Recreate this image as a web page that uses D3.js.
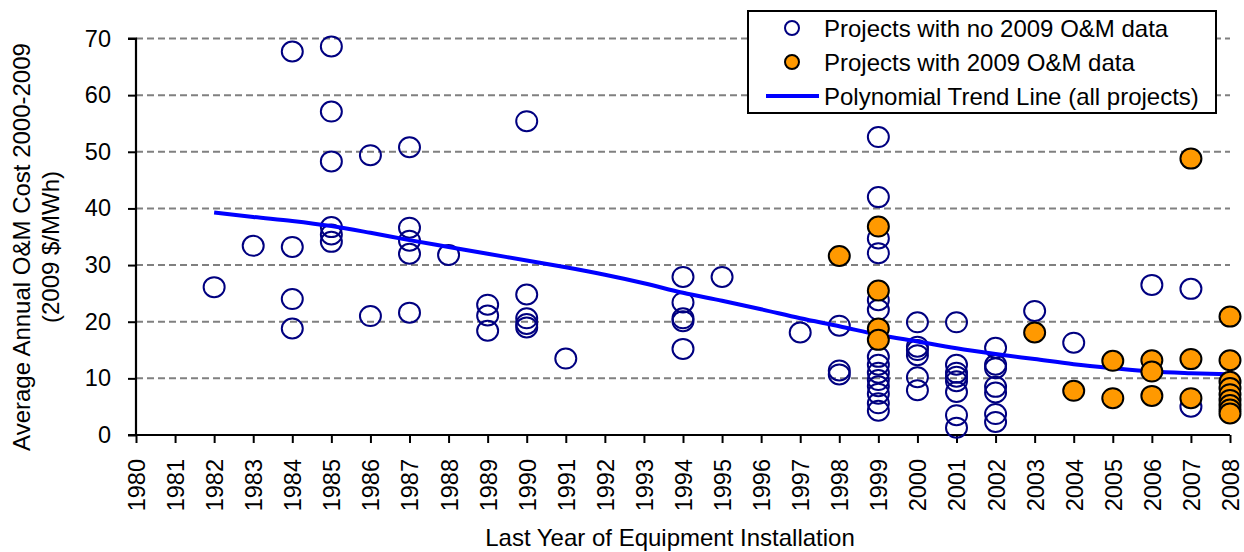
<!DOCTYPE html>
<html>
<head>
<meta charset="utf-8">
<script src="https://cdn.jsdelivr.net/npm/d3@7"></script>
<style>
  html, body { margin: 0; padding: 0; background: #fff; }
  svg { display: block; }
  text { font-family: "Liberation Sans", Arial, sans-serif; fill: #000; }
</style>
</head>
<body>
<svg id="chart" width="1244" height="552"></svg>
<script>
// Installation years shown on the category axis
const years = d3.range(1980, 2009);
const yTicks = [0, 10, 20, 30, 40, 50, 60, 70];

// Projects with no 2009 O&M data: [year, $/MWh]
const noDataPoints = [
  [1982, 26.1],
  [1983, 33.4],
  [1984, 67.7], [1984, 33.2], [1984, 24.0], [1984, 18.8],
  [1985, 68.6], [1985, 57.1], [1985, 48.3], [1985, 36.7], [1985, 35.4], [1985, 34.1],
  [1986, 49.4], [1986, 21.0],
  [1987, 50.8], [1987, 36.6], [1987, 34.3], [1987, 32.0], [1987, 21.6],
  [1988, 31.8],
  [1989, 23.0], [1989, 21.1], [1989, 18.4],
  [1990, 55.4], [1990, 24.8], [1990, 20.6], [1990, 19.6], [1990, 19.0],
  [1991, 13.5],
  [1994, 27.9], [1994, 23.4], [1994, 20.6], [1994, 20.1], [1994, 15.2],
  [1995, 27.9],
  [1997, 18.1],
  [1998, 19.3], [1998, 11.4], [1998, 10.7],
  [1999, 52.6], [1999, 42.0], [1999, 34.7], [1999, 32.1], [1999, 23.8], [1999, 22.1],
  [1999, 13.8], [1999, 12.4], [1999, 11.0], [1999, 9.7], [1999, 8.6], [1999, 7.3],
  [1999, 5.6], [1999, 4.3],
  [2000, 19.9], [2000, 15.6], [2000, 15.0], [2000, 14.1], [2000, 10.2], [2000, 7.9],
  [2001, 19.9], [2001, 12.4], [2001, 11.0], [2001, 10.3], [2001, 9.5], [2001, 7.6],
  [2001, 3.5], [2001, 1.3],
  [2002, 15.4], [2002, 12.4], [2002, 11.8], [2002, 8.5], [2002, 7.5], [2002, 3.7], [2002, 2.3],
  [2003, 21.9],
  [2004, 16.3],
  [2006, 26.5],
  [2007, 25.8], [2007, 5.0]
];

// Projects with 2009 O&M data: [year, $/MWh]
const withDataPoints = [
  [1998, 31.6],
  [1999, 36.8], [1999, 25.5], [1999, 18.8], [1999, 16.8],
  [2003, 18.1],
  [2004, 7.8],
  [2005, 13.1], [2005, 6.5],
  [2006, 13.2], [2006, 11.2], [2006, 6.9],
  [2007, 48.8], [2007, 13.4], [2007, 6.5],
  [2008, 20.9], [2008, 13.2], [2008, 9.4], [2008, 8.3], [2008, 7.2], [2008, 6.2],
  [2008, 5.3], [2008, 4.5], [2008, 3.8]
];

// Polynomial trend line (all projects), value per year
const trendYears = d3.range(1982, 2009);
const trendValues = [39.3, 38.5, 37.8, 36.9, 35.7, 34.4, 33.2, 32.0, 30.8, 29.6,
  28.3, 26.8, 25.1, 23.7, 22.2, 20.6, 19.2, 17.7, 16.5, 15.3,
  14.3, 13.4, 12.5, 11.8, 11.2, 10.9, 10.7];

const legendLabels = [
  "Projects with no 2009 O&M data",
  "Projects with 2009 O&M data",
  "Polynomial Trend Line (all projects)"
];

const svg = d3.select("#chart");
const plot = { left: 136, right: 1230, top: 38.5, bottom: 435 };

const x = d3.scaleLinear().domain([1980, 2008]).range([plot.left, plot.right]);
const y = d3.scaleLinear().domain([0, 70]).range([plot.bottom, plot.top]);

const tickFont = 23.5;
const titleFont = 24;
const navy = "#000080";
const orange = "#FF9900";

// Dashed horizontal gridlines
svg.append("g")
  .selectAll("line")
  .data(yTicks.filter(d => d > 0))
  .join("line")
  .attr("x1", plot.left).attr("x2", plot.right)
  .attr("y1", d => y(d)).attr("y2", d => y(d))
  .attr("stroke", "#808080")
  .attr("stroke-width", 2)
  .attr("stroke-dasharray", "7,4");

// Y axis
const yAxis = svg.append("g")
  .attr("transform", `translate(${plot.left},0)`)
  .call(d3.axisLeft(y).tickValues(yTicks).tickSize(8).tickPadding(17).tickFormat(d3.format("d")));
yAxis.select(".domain").attr("stroke", "#000").attr("stroke-width", 2.2).attr("d", `M-8,${y(0)}H0V${y(70)}H-8`);
yAxis.selectAll(".tick line").attr("stroke", "#000").attr("stroke-width", 2);
yAxis.selectAll(".tick text")
  .style("font-family", '"Liberation Sans", Arial, sans-serif')
  .style("font-size", tickFont + "px")
  .attr("fill", "#000");

// X axis with vertical year labels
const xAxis = svg.append("g")
  .attr("transform", `translate(0,${plot.bottom})`)
  .call(d3.axisBottom(x).tickValues(years).tickSize(8).tickFormat(d3.format("d")));
xAxis.select(".domain").attr("stroke", "#000").attr("stroke-width", 2.2).attr("d", `M${plot.left},0H${plot.right}`);
xAxis.selectAll(".tick line").attr("stroke", "#000").attr("stroke-width", 2);
xAxis.selectAll(".tick text")
  .style("font-family", '"Liberation Sans", Arial, sans-serif')
  .style("font-size", tickFont + "px")
  .attr("fill", "#000")
  .attr("text-anchor", "end")
  .attr("transform", "rotate(-90)")
  .attr("x", -24)
  .attr("y", 0)
  .attr("dy", "0.36em");

// Projects without 2009 data (open markers)
svg.append("g")
  .selectAll("ellipse")
  .data(noDataPoints)
  .join("ellipse")
  .attr("cx", d => x(d[0]))
  .attr("cy", d => y(d[1]))
  .attr("rx", 10.5).attr("ry", 10)
  .attr("fill", "none")
  .attr("stroke", navy)
  .attr("stroke-width", 2);

// Trend line
const line = d3.line()
  .x((d, i) => x(trendYears[i]))
  .y(d => y(d))
  .curve(d3.curveMonotoneX);
svg.append("path")
  .datum(trendValues)
  .attr("d", line)
  .attr("fill", "none")
  .attr("stroke", "#0000FF")
  .attr("stroke-width", 4);

// Projects with 2009 data (filled markers)
svg.append("g")
  .selectAll("ellipse")
  .data(withDataPoints)
  .join("ellipse")
  .attr("cx", d => x(d[0]))
  .attr("cy", d => y(d[1]))
  .attr("rx", 10.5).attr("ry", 10)
  .attr("fill", orange)
  .attr("stroke", "#000")
  .attr("stroke-width", 2);

// Axis titles
svg.append("text")
  .attr("x", 670)
  .attr("y", 546)
  .attr("text-anchor", "middle")
  .style("font-size", titleFont + "px")
  .text("Last Year of Equipment Installation");

const yTitle = svg.append("text")
  .attr("transform", "translate(0,247) rotate(-90)")
  .attr("text-anchor", "middle")
  .style("font-size", titleFont + "px");
yTitle.append("tspan").attr("x", 0).attr("y", 30).text("Average Annual O&M Cost 2000-2009");
yTitle.append("tspan").attr("x", 0).attr("y", 59).text("(2009 $/MWh)");

// Legend
const legend = svg.append("g");
legend.append("rect")
  .attr("x", 748).attr("y", 11)
  .attr("width", 468).attr("height", 102)
  .attr("fill", "#fff")
  .attr("stroke", "#000")
  .attr("stroke-width", 2);
const rowY = [28, 62, 96];
legend.append("ellipse")
  .attr("cx", 792).attr("cy", rowY[0]).attr("rx", 7).attr("ry", 7)
  .attr("fill", "none").attr("stroke", navy).attr("stroke-width", 2);
legend.append("ellipse")
  .attr("cx", 792).attr("cy", rowY[1]).attr("rx", 7).attr("ry", 7)
  .attr("fill", orange).attr("stroke", "#000").attr("stroke-width", 2);
legend.append("line")
  .attr("x1", 766).attr("x2", 819)
  .attr("y1", rowY[2]).attr("y2", rowY[2])
  .attr("stroke", "#0000FF").attr("stroke-width", 4);
legend.selectAll("text.item")
  .data(legendLabels)
  .join("text")
  .attr("class", "item")
  .attr("x", 824)
  .attr("y", (d, i) => rowY[i])
  .attr("dy", "0.36em")
  .style("font-size", titleFont + "px")
  .text(d => d);
</script>
</body>
</html>
